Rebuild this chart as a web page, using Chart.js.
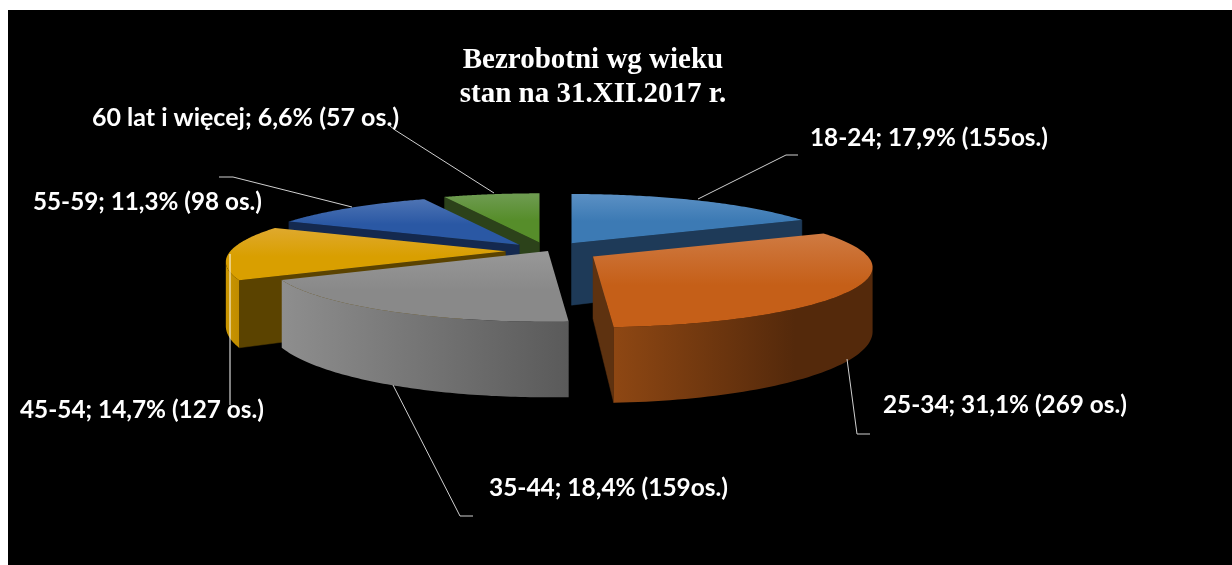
<!DOCTYPE html>
<html lang="pl"><head><meta charset="utf-8">
<style>
html,body{margin:0;padding:0;background:#fff;width:1232px;height:565px;overflow:hidden}
#c{position:absolute;left:8px;top:10px;width:1224px;height:555px;background:#000;filter:blur(.45px)}
</style>
<script src="https://cdn.jsdelivr.net/npm/chart.js@4/dist/chart.umd.js"></script>
</head><body><canvas id="c" width="1224" height="555"></canvas>
<script>
const categories = ['18-24','25-34','35-44','45-54','55-59','60 lat i więcej'];
const people = [155,269,159,127,98,57];
const dataLabels = ['18-24; 17,9% (155os.)','25-34; 31,1% (269 os.)','35-44; 18,4% (159os.)','45-54; 14,7% (127 os.)','55-59; 11,3% (98 os.)','60 lat i więcej; 6,6% (57 os.)'];
const titleLines = ['Bezrobotni wg wieku','stan na 31.XII.2017 r.'];

// styling and layout (screen coordinates of the page, canvas is shifted by 8,10)
const explodePct = [16,19,0,15.5,15,15];
const topLight = ['#5b90c4','#cf7a42','#989898','#dfa92e','#4e74b4','#6f9c52'];
const topBase  = ['#3c7ab4','#c55f18','#898989','#d99f00','#2a58a4','#568d2a'];
const wallLeft = ['#2a5078','#8e4713','#8e8e8e','#cb9600','#1a3566','#3a5a20'];
const wallRight= ['#2a5078','#54290b','#5a5a5a','#c08c00','#1a3566','#3a5a20'];
const cutWall  = ['#1e3a58','#5e3210','#6a6a6a','#5b4300','#14294f','#2c421a'];
const drawOrder = [5,4,0,3,1,2];
const proj = {rx:275, ry:58, persp:0.18, depth:62};
const labelPos = [[810,146,238],[883,413,244],[489,496,239],[20,418,244],[33,210,229],[92,126,308]];
const leaders = [
  [[698,199],[786,155],[798,155]],
  [[847,359],[857,434],[870,434]],
  [[393,385],[460,516],[473,516]],
  [[230,254],[230,405]],
  [[352,207],[233,177],[219,177]],
  [[494,193],[395,130],[390,126]]
];
const titlePos = [[593,68],[593,102]];

const pie3d = {
  id:'pie3d',
  beforeDatasetsDraw(chart){
    const ctx = chart.ctx, arcs = chart.getDatasetMeta(0).data;
    ctx.save();
    ctx.translate(-8,-10);
    drawOrder.forEach(i=>drawSlice(ctx,arcs[i],i));
    ctx.lineWidth=1;
    leaders.forEach((pts,i)=>{
      ctx.strokeStyle = i===3 ? '#ffffff' : '#d0d0d0';
      ctx.beginPath();
      pts.forEach((p,k)=>k?ctx.lineTo(p[0],p[1]):ctx.moveTo(p[0],p[1]));
      ctx.stroke();
    });
    ctx.fillStyle='#ffffff';
    ctx.textBaseline='alphabetic'; ctx.textAlign='left';
    ctx.font='bold 25px Lato';
    dataLabels.forEach((t,i)=>{const p=labelPos[i]; ctx.fillText(t,p[0],p[1],p[2]);});
    ctx.textAlign='center';
    ctx.font='bold 29px "Liberation Serif"';
    titleLines.forEach((t,i)=>ctx.fillText(t,titlePos[i][0],titlePos[i][1],i?274:264));
    ctx.restore();
    return false;
  }
};

function drawSlice(ctx,el,i){
  const p = el.getProps(['x','y','startAngle','endAngle','outerRadius'],true);
  const cx = p.x+8, cy = p.y+10;
  const mid = (p.startAngle+p.endAngle)/2;
  const e = (el.options.offset||0)/p.outerRadius;
  const ax = cx+proj.rx*e*Math.cos(mid), ay = cy+proj.ry*e*Math.sin(mid);
  const pt = a=>{
    const X=Math.cos(a),Y=Math.sin(a),s=1/(1-proj.persp*Y);
    return {x:ax+proj.rx*X*s,y:ay+proj.ry*Y*s,d:proj.depth*s};
  };
  const n=80, rim=[];
  for(let k=0;k<=n;k++) rim.push(pt(p.startAngle+(p.endAngle-p.startAngle)*k/n));
  const A={x:ax,y:ay,d:proj.depth};
  const quad=(a,b,fill)=>{
    ctx.fillStyle=fill; ctx.strokeStyle=fill; ctx.lineWidth=.5;
    ctx.beginPath(); ctx.moveTo(a.x,a.y); ctx.lineTo(b.x,b.y);
    ctx.lineTo(b.x,b.y+b.d); ctx.lineTo(a.x,a.y+a.d); ctx.closePath(); ctx.fill(); ctx.stroke();
  };
  const S=rim[0],E=rim[n];
  if(E.x>A.x+0.5) quad(E,A,cutWall[i]);
  if(S.x<A.x-0.5) quad(A,S,cutWall[i]);
  const vis=[];
  for(let k=0;k<=n;k++){
    const ok=(k<n&&rim[k+1].x<rim[k].x)||(k>0&&rim[k].x<rim[k-1].x);
    if(ok) vis.push(rim[k]);
  }
  if(vis.length>1){
    const xs=vis.map(q=>q.x), x0=Math.min(...xs), x1=Math.max(...xs);
    const g=ctx.createLinearGradient(x0,0,x1,0);
    g.addColorStop(0,wallLeft[i]); g.addColorStop(i===1?.7:1,wallRight[i]); g.addColorStop(1,wallRight[i]);
    ctx.fillStyle=g;
    ctx.beginPath();
    vis.forEach((q,k)=>k?ctx.lineTo(q.x,q.y):ctx.moveTo(q.x,q.y));
    for(let k=vis.length-1;k>=0;k--) ctx.lineTo(vis[k].x,vis[k].y+vis[k].d);
    ctx.closePath(); ctx.fill();
  }
  const ys=rim.map(q=>q.y).concat(ay), y0=Math.min(...ys), y1=Math.max(...ys);
  const g=ctx.createLinearGradient(0,y0,0,y1);
  g.addColorStop(0,topLight[i]); g.addColorStop(.55,topBase[i]); g.addColorStop(1,topBase[i]);
  ctx.fillStyle=g;
  ctx.beginPath(); ctx.moveTo(ax,ay);
  rim.forEach(q=>ctx.lineTo(q.x,q.y));
  ctx.closePath(); ctx.fill();
}

new Chart(document.getElementById('c'),{
  type:'pie',
  data:{labels:categories,datasets:[{data:people,offset:explodePct,backgroundColor:topBase,borderWidth:0}]},
  options:{
    responsive:false,animation:false,devicePixelRatio:1,
    radius:100,
    layout:{padding:{left:0,top:0,right:144,bottom:73}},
    plugins:{legend:{display:false},title:{display:false},tooltip:{enabled:false}}
  },
  plugins:[pie3d]
});
</script></body></html>
